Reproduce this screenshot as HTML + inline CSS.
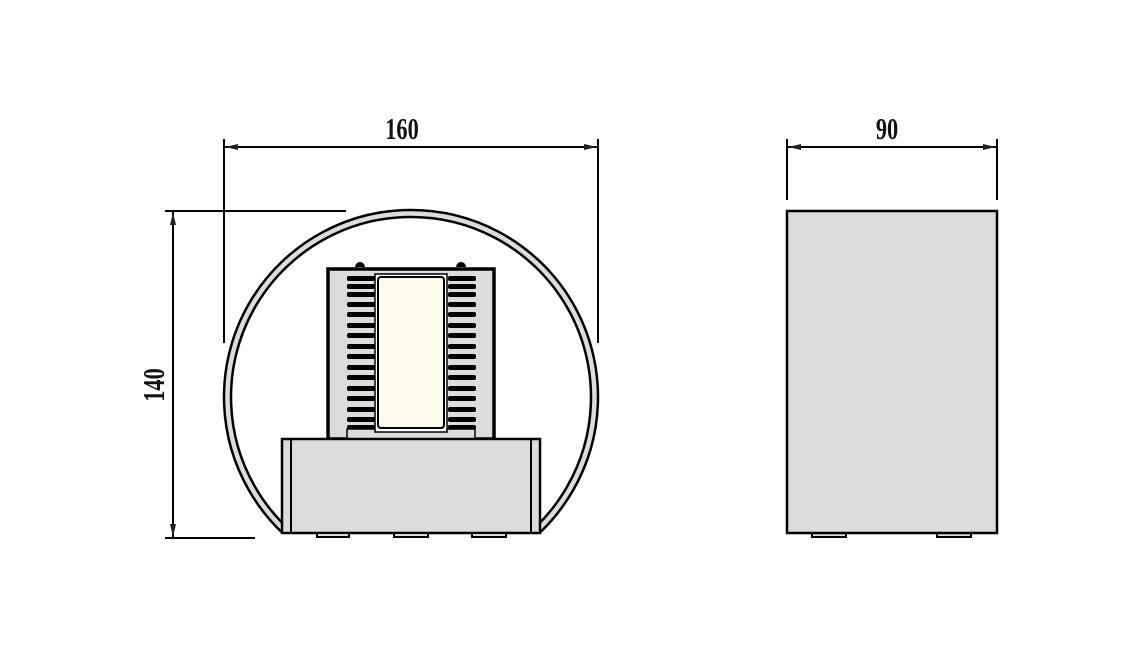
<!DOCTYPE html>
<html><head><meta charset="utf-8"><style>
html,body{margin:0;padding:0;background:#fff;}
svg{display:block;}
text{font-family:"Liberation Serif",serif;font-size:31px;font-weight:bold;fill:#111;}
</style></head><body>
<svg width="1139" height="651" viewBox="0 0 1139 651" xmlns="http://www.w3.org/2000/svg">
<defs>
<marker id="a" markerWidth="14" markerHeight="8" refX="13" refY="4" orient="auto-start-reverse" markerUnits="userSpaceOnUse">
<path d="M0,1 L13,4 L0,7 Z" fill="#222"/></marker>
<clipPath id="c"><rect x="0" y="0" width="1139" height="533"/></clipPath>
</defs>
<g stroke="#000" stroke-width="2" fill="none">
<line x1="224" y1="139" x2="224" y2="343"/>
<line x1="598" y1="139" x2="598" y2="343"/>
<line x1="225" y1="147" x2="597" y2="147" marker-start="url(#a)" marker-end="url(#a)"/>
<line x1="787" y1="139" x2="787" y2="200"/>
<line x1="997" y1="139" x2="997" y2="200"/>
<line x1="788" y1="147" x2="996" y2="147" marker-start="url(#a)" marker-end="url(#a)"/>
<line x1="165" y1="211" x2="346" y2="211"/>
<line x1="165" y1="538" x2="255" y2="538"/>
<line x1="173" y1="212" x2="173" y2="537" marker-start="url(#a)" marker-end="url(#a)"/>
</g>
<text x="402" y="139" text-anchor="middle" transform="translate(402 0) scale(0.72 1) translate(-402 0)">160</text>
<text x="887" y="139" text-anchor="middle" transform="translate(887 0) scale(0.72 1) translate(-887 0)">90</text>
<text x="0" y="0" text-anchor="middle" transform="translate(164 385) rotate(-90) scale(0.72 1)">140</text>

<path clip-path="url(#c)" fill-rule="evenodd" fill="#dcdcdc" stroke="#000" stroke-width="2.5"
 d="M411,210 a187,187 0 1,0 0.01,0 Z M411,217 a180,180 0 1,0 0.01,0 Z"/>
<rect x="328" y="269" width="166" height="170" fill="#dcdcdc" stroke="#000" stroke-width="3.5"/>
<rect x="347" y="429" width="128" height="10" fill="#dcdcdc" stroke="#000" stroke-width="1.5"/>
<rect x="375" y="274" width="72" height="158" fill="#fff" stroke="#000" stroke-width="1.5"/>
<rect x="378" y="277" width="66" height="151" rx="3" fill="#fdfbee" stroke="#000" stroke-width="2"/>
<g fill="#000">
<path d="M355,267 a5,5 0 0 1 10,0 Z"/><path d="M456,267 a5,5 0 0 1 10,0 Z"/>
</g>
<g id="fins">
<g fill="#000" stroke="none">
<rect x="347" y="276" width="28" height="5" rx="2"/>
<rect x="347" y="284" width="28" height="5" rx="2"/>
<rect x="347" y="292" width="28" height="5" rx="2"/>
<rect x="347" y="302" width="28" height="5" rx="2"/>
<rect x="347" y="312" width="28" height="5" rx="2"/>
<rect x="347" y="323" width="28" height="5" rx="2"/>
<rect x="347" y="333" width="28" height="5" rx="2"/>
<rect x="347" y="344" width="28" height="5" rx="2"/>
<rect x="347" y="354" width="28" height="5" rx="2"/>
<rect x="347" y="365" width="28" height="5" rx="2"/>
<rect x="347" y="375" width="28" height="5" rx="2"/>
<rect x="347" y="386" width="28" height="5" rx="2"/>
<rect x="347" y="396" width="28" height="5" rx="2"/>
<rect x="347" y="407" width="28" height="5" rx="2"/>
<rect x="347" y="417" width="28" height="5" rx="2"/>
<rect x="347" y="425" width="28" height="4" rx="2"/>
</g>
</g>
<use href="#fins" x="101"/>
<rect x="282" y="439" width="258" height="94" fill="#dcdcdc" stroke="#000" stroke-width="2.5"/>
<line x1="291" y1="439" x2="291" y2="533" stroke="#000" stroke-width="2"/>
<line x1="531" y1="439" x2="531" y2="533" stroke="#000" stroke-width="2"/>
<g fill="#dcdcdc" stroke="#000" stroke-width="2">
<rect x="317" y="533" width="32" height="4"/>
<rect x="394" y="533" width="34" height="4"/>
<rect x="472" y="533" width="34" height="4"/>
<rect x="812" y="533" width="34" height="4"/>
<rect x="937" y="533" width="34" height="4"/>
</g>
<rect x="787" y="211" width="210" height="322" fill="#dcdcdc" stroke="#000" stroke-width="2.5"/>
</svg>
</body></html>
